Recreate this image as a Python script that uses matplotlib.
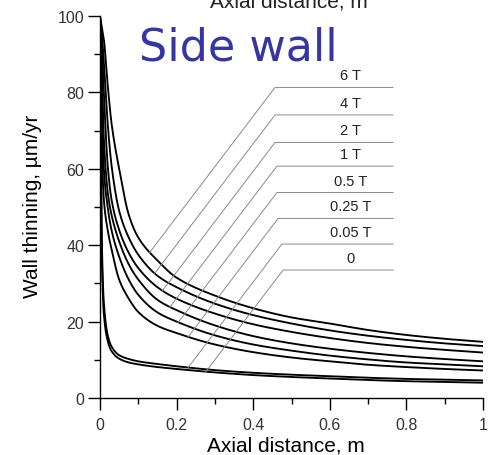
import numpy as np
import matplotlib
matplotlib.use("Agg")
import matplotlib.pyplot as plt
from matplotlib.ticker import MultipleLocator

plt.rcParams['font.family'] = ['Liberation Sans', 'DejaVu Sans']

# axial distance (m) where the curves were read
xs = [0, 0.005, 0.01, 0.02, 0.03, 0.05, 0.075, 0.1, 0.15, 0.2,
      0.3, 0.4, 0.5, 0.6, 0.7, 0.8, 0.9, 1.0]

labels = ['6 T', '4 T', '2 T', '1 T', '0.5 T', '0.25 T', '0.05 T', '0']

# wall thinning, um/yr
y_6T = [100, 97, 94, 82, 72, 60, 48, 42, 36, 31.5, 26.8, 23.5, 21.1, 19.5, 17.8, 16.5, 15.5, 14.7]
y_4T = [100, 95, 88, 72, 61, 49, 42, 37.5, 32, 29, 24.7, 21.7, 19.5, 17.7, 16.3, 15.2, 14.3, 13.6]
y_2T = [100, 92, 80, 61, 52, 44, 38, 34, 29, 26, 22.1, 19.3, 17.3, 15.7, 14.4, 13.4, 12.6, 11.9]
y_1T = [100, 85, 68, 54, 48, 41, 35, 31, 25.7, 23, 19.0, 16.2, 14.3, 12.9, 11.8, 10.9, 10.2, 9.6]
y_05T = [100, 78, 60, 50, 44, 37, 31, 27, 22.4, 20, 16.4, 14.0, 12.4, 11.1, 10.1, 9.3, 8.8, 8.3]
y_025T = [100, 65, 52, 44, 39, 31, 26, 22.5, 18.9, 17, 14.0, 12.0, 10.6, 9.6, 8.7, 8.1, 7.6, 7.2]
y_005T = [100, 40, 25, 16.5, 13.5, 11.2, 10.2, 9.6, 8.9, 8.3, 7.3, 6.6, 6.1, 5.7, 5.3, 5.0, 4.8, 4.6]
y_0 = [100, 36, 22, 15, 12.3, 10.3, 9.3, 8.8, 8.1, 7.6, 6.7, 6.0, 5.5, 5.1, 4.7, 4.4, 4.2, 4.0]

series = [y_6T, y_4T, y_2T, y_1T, y_05T, y_025T, y_005T, y_0]

# where the label shelves sit
shelf_y = [81.3, 74.1, 66.9, 60.7, 53.8, 47.0, 40.3, 33.5]
shelf_x0 = [0.457, 0.457, 0.457, 0.462, 0.462, 0.465, 0.475, 0.478]
shelf_x1 = 0.765
lead_slope = 132.0


def pchip(x, y, xn):
    # monotone cubic through the read points, just to draw them smooth
    x = np.asarray(x, float)
    y = np.asarray(y, float)
    h = np.diff(x)
    d = np.diff(y) / h
    m = np.zeros_like(y)
    m[0], m[-1] = d[0], d[-1]
    for k in range(1, len(x) - 1):
        if d[k - 1] * d[k] > 0:
            w1 = 2 * h[k] + h[k - 1]
            w2 = h[k] + 2 * h[k - 1]
            m[k] = (w1 + w2) / (w1 / d[k - 1] + w2 / d[k])
    i = np.clip(np.searchsorted(x, xn) - 1, 0, len(x) - 2)
    t = (xn - x[i]) / h[i]
    h00 = 2 * t**3 - 3 * t**2 + 1
    h10 = t**3 - 2 * t**2 + t
    h01 = -2 * t**3 + 3 * t**2
    h11 = t**3 - t**2
    return h00 * y[i] + h10 * h[i] * m[i] + h01 * y[i + 1] + h11 * h[i] * m[i + 1]


fig = plt.figure(figsize=(5, 4.56), dpi=100)
ax = fig.add_axes([0.2, 0.125, 0.766, 0.8377])

xf = np.concatenate([np.linspace(0, 0.1, 2001), np.linspace(0.1, 1, 901)[1:]])
for ys, lab, sy, sx in zip(series, labels, shelf_y, shelf_x0):
    yf = pchip(xs, ys, xf)
    ax.plot(xf, yf, color='black', lw=1.35, solid_joinstyle='round')
    # leader line down to the curve
    sel = xf <= sx
    xx = xf[sel]
    diff = sy + lead_slope * (xx - sx) - yf[sel]
    i = np.where(diff < 0)[0][-1]
    xe = xx[i]
    ye = sy + lead_slope * (xe - sx)
    ax.plot([xe, sx, shelf_x1], [ye, sy, sy], color='#8a8a8a', lw=0.7)
    ax.text(0.655, sy + 1.3, lab, ha='center', va='bottom', fontsize=10.5,
            color='#222222')

ax.set_xlim(0, 1)
ax.set_ylim(0, 100)
ax.spines['top'].set_visible(False)
ax.spines['right'].set_visible(False)
for s in ['left', 'bottom']:
    ax.spines[s].set_linewidth(1.0)

ax.xaxis.set_major_locator(MultipleLocator(0.2))
ax.xaxis.set_minor_locator(MultipleLocator(0.1))
ax.yaxis.set_major_locator(MultipleLocator(20))
ax.yaxis.set_minor_locator(MultipleLocator(10))
ax.set_xticks([0, 0.2, 0.4, 0.6, 0.8, 1.0])
ax.set_xticklabels(['0', '0.2', '0.4', '0.6', '0.8', '1'])
ax.tick_params(which='major', direction='out', length=8.5, width=1.0,
               labelsize=11.5, labelcolor='#333333')
ax.tick_params(which='minor', direction='out', length=4.3, width=1.0)
ax.tick_params(axis='x', which='major', pad=5)
ax.tick_params(axis='y', which='major', pad=3)

ax.set_xlabel('Axial distance, m', fontsize=15)
ax.set_ylabel('Wall thinning, \u00b5m/yr', fontsize=15)
ax.xaxis.set_label_coords(0.486, -0.097)
ax.yaxis.set_label_coords(-0.152, 0.505)

# cut-off label at the very top of the image
fig.text(0.578, 1 - 7 / 456, 'Axial distance, m', ha='center', va='baseline',
         fontsize=15, color='#222222')

fig.text(0.476, 1 - 48 / 456, 'Side wall', ha='center', va='center',
         fontsize=32, color='#3535a5', family=['DejaVu Sans'])

fig.savefig('out.png', dpi=100)
